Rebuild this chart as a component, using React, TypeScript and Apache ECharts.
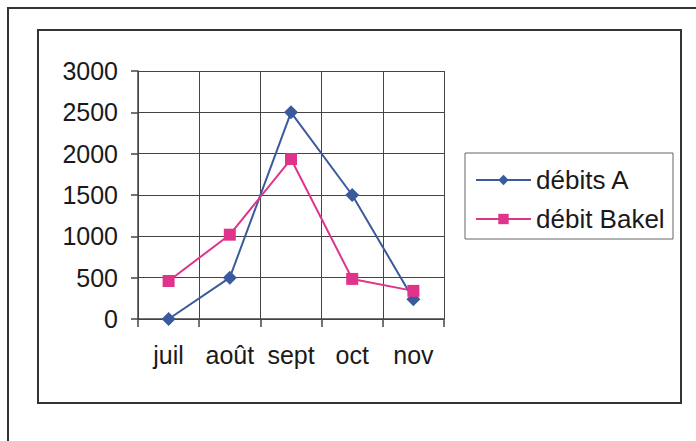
import React, { useEffect, useRef } from "react";
import * as echarts from "echarts";

const categories = ["juil", "août", "sept", "oct", "nov"];
const debitsA = [0, 500, 2500, 1500, 240];
const debitBakel = [460, 1020, 1935, 485, 340];
const yMin = 0;
const yMax = 3000;
const yInterval = 500;

const BLUE = "#3a5b9b";
const PINK = "#e0338a";
const GRID = "#444444";
const TEXT = "#1a1a1a";
const FONT = "'Liberation Sans', Arial, sans-serif";

export default function App() {
  const ref = useRef<HTMLDivElement>(null);
  useEffect(() => {
    if (!ref.current) return;
    const chart = echarts.init(ref.current, undefined, { renderer: "svg" });
    chart.setOption({
      animation: false,
      backgroundColor: "#ffffff",
      textStyle: { fontFamily: FONT },
      grid: { left: 138, top: 71, width: 306, height: 248, containLabel: false },
      xAxis: {
        type: "category",
        data: categories,
        boundaryGap: true,
        axisLine: { show: true, lineStyle: { color: GRID, width: 1.5 } },
        axisTick: { show: true, interval: 0, length: 8, lineStyle: { color: GRID, width: 1.5 } },
        splitLine: { show: true, interval: 0, lineStyle: { color: GRID, width: 1 } },
        axisLabel: {
          color: TEXT,
          fontSize: 25,
          fontFamily: FONT,
          margin: 23,
          interval: 0,
          hideOverlap: false,
        },
      },
      yAxis: {
        type: "value",
        min: yMin,
        max: yMax,
        interval: yInterval,
        axisLine: { show: true, lineStyle: { color: GRID, width: 1.5 } },
        axisTick: { show: true, length: 7, lineStyle: { color: GRID, width: 1.5 } },
        splitLine: { show: true, lineStyle: { color: GRID, width: 1 } },
        axisLabel: {
          color: TEXT,
          fontSize: 25,
          fontFamily: FONT,
          margin: 20,
          formatter: (v: number) => String(v),
        },
      },
      legend: {
        orient: "vertical",
        left: 470,
        top: 162,
        itemWidth: 55,
        itemHeight: 13,
        itemGap: 13,
        textStyle: { color: TEXT, fontSize: 26, fontFamily: FONT },
        data: ["débits A", "débit Bakel"],
      },
      graphic: [
        {
          type: "rect",
          shape: { x: 8, y: 8, width: 720, height: 460 },
          style: { fill: "none", stroke: "#333", lineWidth: 2 },
          silent: true,
        },
        {
          type: "rect",
          shape: { x: 38, y: 30, width: 643, height: 373 },
          style: { fill: "none", stroke: "#333", lineWidth: 2 },
          silent: true,
        },
        {
          type: "rect",
          shape: { x: 465, y: 153, width: 208, height: 86 },
          style: { fill: "none", stroke: "#666", lineWidth: 1 },
          silent: true,
        },
      ],
      series: [
        {
          name: "débits A",
          type: "line",
          data: debitsA,
          symbol: "diamond",
          symbolSize: 14,
          lineStyle: { color: BLUE, width: 2 },
          itemStyle: { color: BLUE },
        },
        {
          name: "débit Bakel",
          type: "line",
          data: debitBakel,
          symbol: "rect",
          symbolSize: 12,
          lineStyle: { color: PINK, width: 2 },
          itemStyle: { color: PINK },
        },
      ],
    });
    return () => chart.dispose();
  }, []);
  return (
    <div
      ref={ref}
      style={{ position: "absolute", left: 0, top: 0, width: 696, height: 441 }}
    />
  );
}
